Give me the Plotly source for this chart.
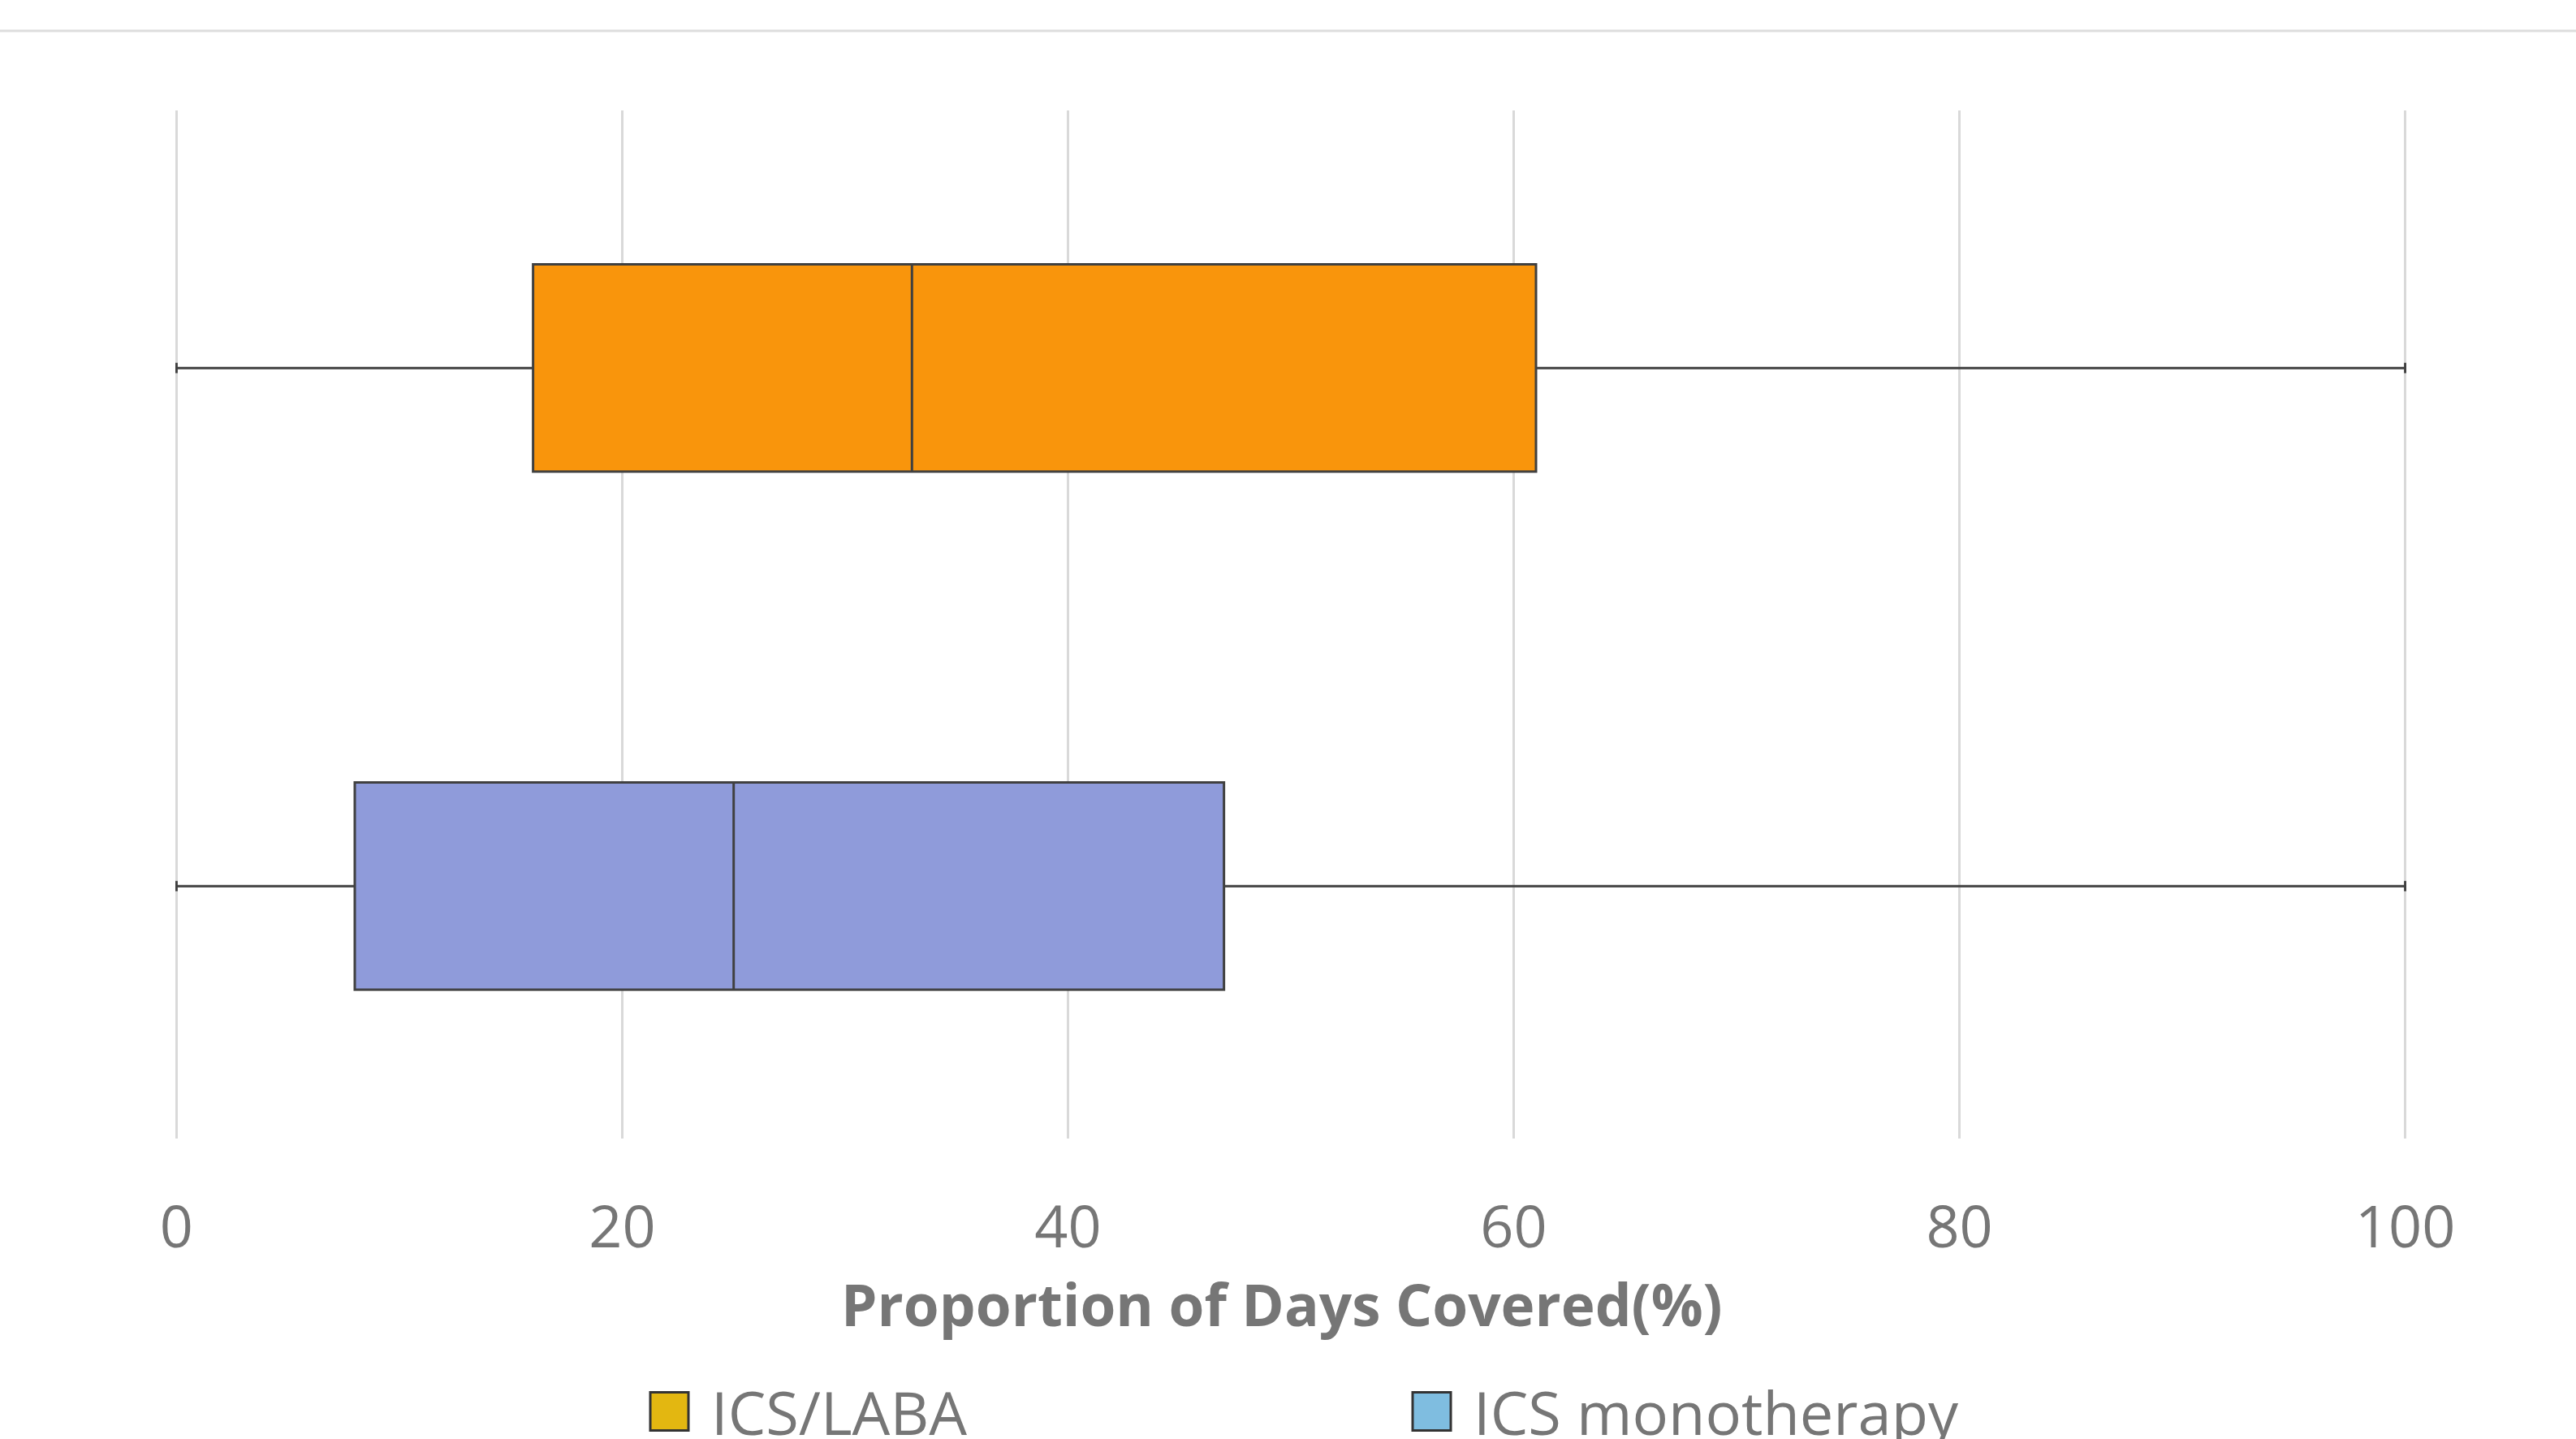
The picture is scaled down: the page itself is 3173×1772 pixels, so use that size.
import plotly.graph_objects as go

# Summary statistics for Proportion of Days Covered (%)
groups = ["ICS/LABA", "ICS monotherapy"]
minimum = [0, 0]
q1 = [16, 8]
median = [33, 25]
q3 = [61, 47]
maximum = [100, 100]

box_colors = ["#F9950C", "#8F9BDA"]
legend_colors = ["#E3B711", "#7FBDE0"]

tick_vals = [0, 20, 40, 60, 80, 100]
tick_text = ["0", "20", "40", "60", "80", "100"]
x_title = "Proportion of Days Covered(%)"

W, H = 3173, 1772
ml, mr, mt, mb = 216, 209, 136, 370
pw, ph = W - ml - mr, H - mt - mb

fig = go.Figure()

for i, g in enumerate(groups):
    fig.add_trace(go.Box(
        y=[g],
        q1=[q1[i]], median=[median[i]], q3=[q3[i]],
        lowerfence=[minimum[i]], upperfence=[maximum[i]],
        orientation="h",
        fillcolor=box_colors[i],
        line=dict(color="#404040", width=3),
        width=0.4,
        whiskerwidth=0.05,
        boxpoints=False,
        showlegend=False,
        hoverinfo="skip",
    ))


def px_x(px):
    return (px - ml) / pw


def px_y(py):
    return (H - mb - py) / ph


# axis title
fig.add_annotation(xref="paper", yref="paper", x=px_x(1579), y=px_y(1605),
                   xanchor="center", yanchor="middle", showarrow=False,
                   text="<b>" + x_title + "</b>",
                   font=dict(size=71, color="#767676"))

# legend: coloured squares with labels underneath the axis title
legend_square_left = [801, 1740]
legend_text_left = [874, 1813]
sq = 47
cy = 1738
for i, g in enumerate(groups):
    fig.add_shape(type="rect", xref="paper", yref="paper",
                  x0=px_x(legend_square_left[i]), x1=px_x(legend_square_left[i] + sq),
                  y0=px_y(cy + sq / 2), y1=px_y(cy - sq / 2),
                  fillcolor=legend_colors[i],
                  line=dict(color="#333333", width=3))
    fig.add_annotation(xref="paper", yref="paper",
                       x=px_x(legend_text_left[i]), y=px_y(cy),
                       xanchor="left", yanchor="middle", showarrow=False,
                       text=g, font=dict(size=74, color="#767676"))

# thin rule above the chart
fig.add_shape(type="line", xref="paper", yref="paper",
              x0=-ml / pw, x1=1 + mr / pw,
              y0=px_y(38), y1=px_y(38),
              line=dict(color="#DDDDDD", width=3))

fig.update_layout(
    width=W, height=H,
    margin=dict(l=ml, r=mr, t=mt, b=mb),
    paper_bgcolor="white", plot_bgcolor="white",
    font=dict(family="Open Sans", color="#767676"),
    showlegend=False,
    xaxis=dict(
        range=[-0.05, 100.05], tickvals=tick_vals, ticktext=tick_text,
        showgrid=True, gridcolor="#D9D9D9", gridwidth=3,
        zeroline=True, zerolinecolor="#D9D9D9", zerolinewidth=3,
        showline=False, ticks="", ticklabelstandoff=61,
        tickfont=dict(size=72, color="#767676"),
    ),
    yaxis=dict(
        type="category",
        categoryorder="array", categoryarray=groups[::-1],
        range=[-0.487, 1.497],
        showticklabels=False, showgrid=False, zeroline=False,
        showline=False, ticks="",
    ),
)

fig.write_html("out.html")
